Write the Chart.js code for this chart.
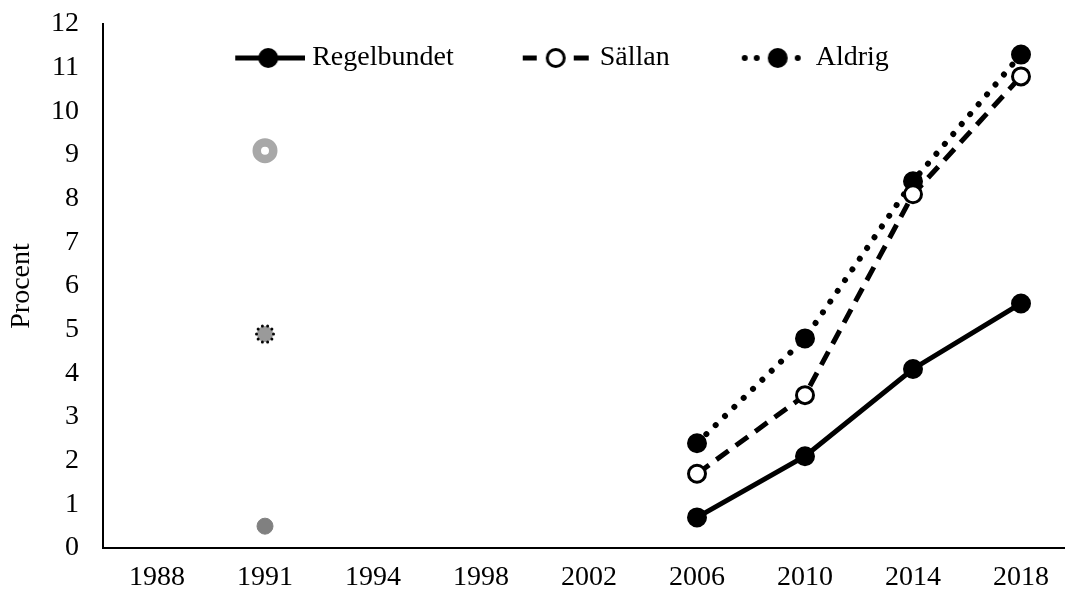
<!DOCTYPE html>
<html>
<head>
<meta charset="utf-8">
<script src="https://cdn.jsdelivr.net/npm/chart.js@4"></script>
<style>
  html, body { margin: 0; padding: 0; background: #fff; overflow: hidden; }
  #wrap { position: absolute; left: 0; top: 0; width: 1090px; height: 597px; }
</style>
</head>
<body>
<div id="wrap"><canvas id="chart"></canvas></div>
<script>
const years = ["1988", "1991", "1994", "1998", "2002", "2006", "2010", "2014", "2018"];
const regelbundet = [null, 0.5, null, null, null, 0.7, 2.1, 4.1, 5.6];
const sallan = [null, 9.1, null, null, null, 1.7, 3.5, 8.1, 10.8];
const aldrig = [null, 4.9, null, null, null, 2.4, 4.8, 8.4, 11.3];
const seriesNames = ["Regelbundet", "Sällan", "Aldrig"];
const yMax = 12;

const FONT = "'Liberation Serif', 'Times New Roman', serif";
Chart.defaults.font.family = FONT;
Chart.defaults.font.size = 28;
Chart.defaults.color = "#000";

// the 1991 point is a separate, older survey -> greyed markers
const OLD = 1;

function makeCanvas(w, h, draw) {
  const c = document.createElement("canvas");
  c.width = w;
  c.height = h;
  draw(c.getContext("2d"));
  return c;
}

function dot(ctx, x, y, r) {
  ctx.beginPath();
  ctx.arc(x, y, r, 0, Math.PI * 2);
  ctx.fill();
}

// grey disc with a dotted black rim (Aldrig, 1991)
const dottedGrey = makeCanvas(24, 24, (ctx) => {
  ctx.fillStyle = "#9a9a9a";
  dot(ctx, 12, 12, 8);
  ctx.fillStyle = "#000";
  for (let i = 0; i < 10; i++) {
    const a = (i * Math.PI * 2) / 10;
    dot(ctx, 12 + 8.5 * Math.cos(a), 12 + 8.5 * Math.sin(a), 1.5);
  }
});

// legend samples: line + marker, drawn into small canvases
const LY = 15;
const legendIcons = [
  makeCanvas(134, 30, (ctx) => {
    ctx.strokeStyle = "#000";
    ctx.lineWidth = 5;
    ctx.beginPath();
    ctx.moveTo(64, LY);
    ctx.lineTo(134, LY);
    ctx.stroke();
    ctx.fillStyle = "#000";
    dot(ctx, 97, LY, 10);
  }),
  makeCanvas(134, 30, (ctx) => {
    ctx.strokeStyle = "#000";
    ctx.lineWidth = 5;
    ctx.beginPath();
    ctx.moveTo(64, LY);
    ctx.lineTo(78, LY);
    ctx.moveTo(115, LY);
    ctx.lineTo(130, LY);
    ctx.stroke();
    ctx.fillStyle = "#fff";
    ctx.lineWidth = 3;
    ctx.beginPath();
    ctx.arc(97, LY, 8.5, 0, Math.PI * 2);
    ctx.fill();
    ctx.stroke();
  }),
  makeCanvas(134, 30, (ctx) => {
    ctx.fillStyle = "#000";
    dot(ctx, 70, LY, 3);
    dot(ctx, 82, LY, 3);
    dot(ctx, 103, LY, 10);
    dot(ctx, 123, LY, 3);
  }),
];

// legend sits inside the plot in the original: it takes ~no layout height,
// then gets its drawing box back and a small nudge
const legendShift = {
  id: "legendShift",
  afterLayout(chart) {
    const lg = chart.legend;
    lg.left -= 4;
    lg.right -= 4;
    lg.top += 9;
    lg.height = 60;
    lg.bottom = lg.top + lg.height;
  },
};

const common = {
  spanGaps: false,
  borderColor: "#000",
  pointBorderColor: (c) => (c.dataIndex === OLD ? "#808080" : "#000"),
};

// invisible tick marks used as label spacing (tick padding would also pad the plot top)
const hiddenTicks = (len) => ({
  display: true,
  drawOnChartArea: false,
  drawTicks: true,
  tickLength: len,
  color: "rgba(0,0,0,0)",
});

new Chart(document.getElementById("chart"), {
  type: "line",
  data: {
    labels: years,
    datasets: [
      {
        ...common,
        label: seriesNames[0],
        data: regelbundet,
        borderWidth: 5,
        pointRadius: (c) => (c.dataIndex === OLD ? 8 : 9),
        pointBorderWidth: (c) => (c.dataIndex === OLD ? 1 : 2),
        pointBackgroundColor: (c) => (c.dataIndex === OLD ? "#808080" : "#000"),
      },
      {
        ...common,
        label: seriesNames[1],
        data: sallan,
        borderWidth: 5,
        borderDash: [15, 9],
        pointRadius: (c) => (c.dataIndex === OLD ? 8.25 : 8.5),
        pointBorderWidth: (c) => (c.dataIndex === OLD ? 8.5 : 3),
        pointBorderColor: (c) => (c.dataIndex === OLD ? "#a8a8a8" : "#000"),
        pointBackgroundColor: "#fff",
      },
      {
        ...common,
        label: seriesNames[2],
        data: aldrig,
        borderWidth: 6,
        borderDash: [0.01, 13],
        borderCapStyle: "round",
        pointRadius: 9,
        pointBorderWidth: 2,
        pointBackgroundColor: "#000",
        pointStyle: (c) => (c.dataIndex === OLD ? dottedGrey : "circle"),
      },
    ],
  },
  options: {
    responsive: true,
    maintainAspectRatio: false,
    animation: false,
    devicePixelRatio: 1,
    layout: { padding: { top: 23, right: 15, bottom: 0, left: 0 } },
    plugins: {
      tooltip: { enabled: false },
      legend: {
        position: "top",
        align: "center",
        maxHeight: 1,
        labels: {
          usePointStyle: true,
          pointStyleWidth: 120,
          padding: 12,
          font: { size: 28 },
          generateLabels: () =>
            seriesNames.map((name, i) => ({
              text: name,
              pointStyle: legendIcons[i],
              fillStyle: "#000",
              strokeStyle: "#000",
              lineWidth: 0,
              hidden: false,
              datasetIndex: i,
              fontColor: "#000",
            })),
        },
      },
    },
    scales: {
      x: {
        offset: true,
        grid: hiddenTicks(0),
        border: { display: true, color: "#000", width: 2 },
        ticks: { padding: 13, font: { size: 28 }, maxRotation: 0, autoSkip: false },
        afterFit: (s) => { s.height = 49; },
      },
      y: {
        min: 0,
        max: yMax,
        grid: hiddenTicks(24),
        border: { display: true, color: "#000", width: 2 },
        ticks: { stepSize: 1, padding: 0, font: { size: 28 } },
        title: { display: true, text: "Procent", font: { size: 28 }, padding: { top: 5, bottom: 0 } },
        afterFit: (s) => { s.width = 103; },
      },
    },
  },
  plugins: [legendShift],
});
</script>
</body>
</html>
